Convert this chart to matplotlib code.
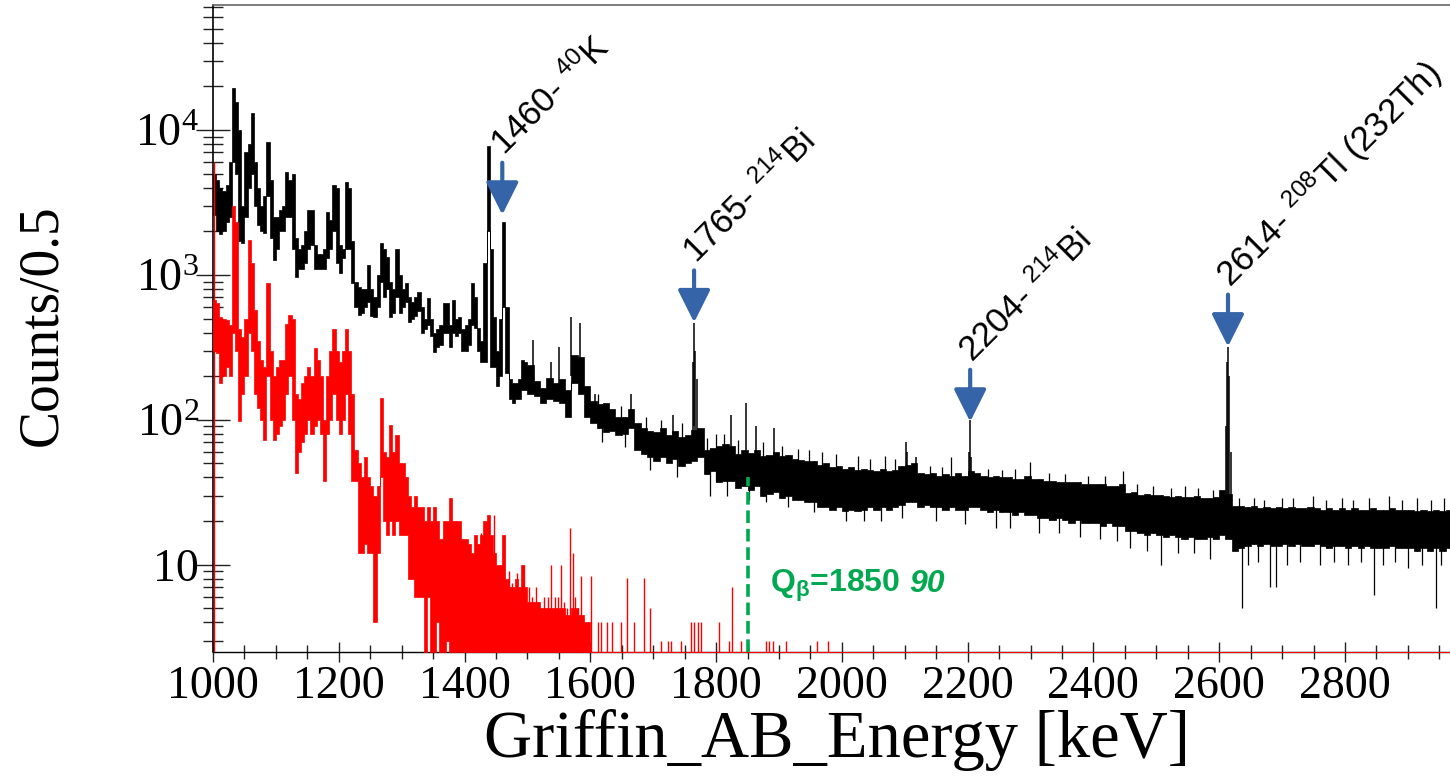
import matplotlib.pyplot as plt
import matplotlib.ticker as mticker
import numpy as np

plt.rcParams['font.family'] = 'Liberation Serif'
plt.rcParams['mathtext.default'] = 'regular'

# --- spectrum, stored as per-bin band (low / high count) ---
# 5 keV bins from 1000 to 1500, 10 keV bins from 1500 to 2970
edges = np.concatenate([np.arange(1000, 1500, 5), np.arange(1500, 2971, 10)])

black_lo_fine = [
    2600, 2000, 1900, 2000, 2300, 2500, 6000, 5000, 1700, 1650,
    2500, 4000, 5000, 3000, 2200, 2000, 1950, 3500, 1800, 1270,
    1500, 2000, 2000, 2500, 2500, 1500, 970, 1100, 1100, 1200,
    1500, 1600, 1100, 1100, 1100, 1100, 1300, 1500, 2000, 1200,
    1030, 1300, 1500, 1500, 880, 600, 530, 550, 600, 650,
    520, 510, 600, 900, 700, 800, 510, 550, 700, 550,
    600, 650, 470, 500, 520, 560, 400, 420, 450, 380,
    295, 320, 330, 400, 400, 320, 400, 380, 400, 300,
    300, 330, 450, 430, 300, 250, 250, 2000, 230, 230,
    170, 200, 600, 210, 140, 130, 140, 140, 160, 160]
black_hi_fine = [
    5000, 4500, 4000, 3800, 4200, 6000, 19500, 15700, 10000, 3000,
    7000, 8000, 13000, 6000, 4000, 3000, 3500, 8300, 4500, 2500,
    2500, 2800, 3000, 5100, 4500, 5000, 1800, 1500, 1600, 2000,
    2800, 2800, 1600, 1400, 1400, 1500, 2700, 2400, 4150, 4000,
    1600, 1500, 4380, 4000, 1700, 900, 830, 800, 800, 1170,
    800, 700, 1000, 1660, 1500, 1330, 900, 800, 1500, 1000,
    800, 880, 700, 650, 700, 760, 600, 500, 690, 500,
    400, 420, 450, 640, 640, 450, 670, 500, 510, 420,
    450, 500, 880, 700, 430, 350, 1200, 7800, 1500, 510,
    300, 500, 2300, 600, 190, 180, 180, 190, 260, 250]

black_lo_coarse = [
    150, 145, 130, 140, 135, 130, 105, 180, 150, 105,                   # 1500
    95, 88, 82, 84, 78, 80, 88, 62, 58, 55,                             # 1600
    52, 55, 50, 54, 48, 50, 52, 55, 42, 44,                             # 1700
    37, 38, 38, 34, 35, 33, 35, 30, 31, 32,                             # 1800
    29, 30, 28, 28, 27, 27, 25, 25, 24, 25,                             # 1900
    23.5, 24, 23.5, 24, 25, 24, 25, 24, 25, 26,                         # 2000
    27, 27, 25, 26, 25, 25, 24, 25, 24, 24,                             # 2100
    25, 25, 24, 23, 24, 23, 23, 22, 23, 22,                             # 2200
    22, 21, 21, 20.5, 21, 20.5, 19.5, 20.5, 19.5, 19.5,                 # 2300
    19.5, 18.5, 19.5, 18.5, 18.5, 17, 17, 16.5, 16, 16.5,               # 2400
    16, 15.5, 16, 15.5, 15, 15.5, 15, 15, 15.5, 15,                     # 2500
    16, 15, 12.5, 13, 13.5, 14, 13.5, 14, 13.5, 13.5,                   # 2600
    14, 13.5, 14, 13.5, 13.5, 14, 13.5, 13, 13.5, 13.5,                 # 2700
    13, 13.5, 13, 13.5, 13, 13, 13, 13.5, 13, 13,                       # 2800
    13, 12.5, 13, 12.5, 13, 12.5, 13]                                   # 2900
black_hi_coarse = [
    240, 185, 165, 195, 180, 190, 160, 280, 270, 170,
    135, 128, 130, 118, 105, 104, 118, 95, 88, 84,
    82, 88, 78, 84, 76, 78, 85, 88, 62, 64,
    66, 68, 66, 58, 62, 59, 62, 56, 57, 60,
    56, 57, 54, 53, 52, 52, 49, 50, 47, 48,
    46, 47, 45, 46, 45, 44, 46, 44, 45, 48,
    49, 50, 43, 42, 43, 41, 42, 41, 43, 41,
    44, 43, 41, 40, 41, 40, 40, 39, 39, 41,
    39, 39, 38, 38, 37, 37, 37, 37, 36, 36,
    36, 36, 35, 35, 36, 31.5, 32, 30.5, 31, 30.5,
    30.5, 30, 29.5, 30, 29.5, 29.5, 30, 29, 29, 29.5,
    33, 31, 25.5, 25.5, 25, 25.5, 24.5, 25, 24.5, 25,
    24.5, 25, 24.5, 24.5, 25, 24.5, 24, 24.5, 24, 24.5,
    24, 24.5, 24, 24, 24.5, 24, 24, 24.5, 24, 24,
    24, 23.5, 24, 23.5, 24, 23.5, 24]

# narrow peaks of the black spectrum (energy, low, high)
peak_e = [1509, 1538, 1550, 1569, 1584, 1608, 1665, 1731, 1763, 1765,
          1767, 1770, 1823, 1847, 1863, 1892, 2102, 2104, 2118, 2202,
          2204, 2206, 2611, 2613, 2614, 2616, 2618]
peak_lo = [180, 170, 170, 200, 190, 110, 100, 70, 80, 90,
           80, 60, 55, 50, 45, 45, 40, 40, 38, 35,
           40, 35, 30, 30, 30, 30, 25]
peak_hi = [356, 250, 320, 510, 465, 150, 150, 108, 250, 465,
           300, 190, 108, 130, 90, 88, 70, 60, 55, 60,
           100, 55, 90, 250, 318, 200, 60]

# single-bin fluctuations sticking out of the band
up_e = [1612, 1648, 1688, 1712, 1745, 1785, 1800, 1812, 1835, 1875,
        1905, 1930, 1948, 1968, 1990, 2025, 2045, 2068, 2085, 2140,
        2160, 2173, 2232, 2255, 2275, 2299, 2330, 2355, 2392, 2418,
        2447, 2470, 2495, 2523, 2545, 2566, 2590, 2632, 2655, 2672,
        2700, 2718, 2749, 2770, 2795, 2812, 2838, 2870, 2890, 2915,
        2936, 2958]
up_top = [150, 125, 105, 100, 95, 75, 80, 80, 72, 70,
          66, 63, 62, 60, 58, 56, 54, 56, 54, 48,
          47, 55, 46, 45, 46, 51, 43, 42, 41, 41,
          44, 36, 35, 34, 35, 34, 33, 29, 29, 28,
          29, 29, 30, 28, 29, 28, 29, 30, 28, 29,
          28, 29]
down_e = [1618, 1655, 1695, 1738, 1790, 1818, 1852, 1880, 1915, 1955,
          2006, 2035, 2062, 2095, 2150, 2196, 2245, 2268, 2313, 2345,
          2378, 2410, 2438, 2458, 2485, 2507, 2535, 2560, 2585, 2636,
          2645, 2662, 2680, 2690, 2708, 2728, 2760, 2783, 2805, 2825,
          2846, 2860, 2880, 2900, 2922, 2944, 2952]
down_bottom = [70, 65, 45, 40, 30, 30, 28, 27, 25, 23,
               20, 20, 20, 21, 20, 19, 18, 18, 16.6, 16.5,
               15.5, 15, 14.5, 13, 12.5, 10, 12, 12, 11, 5,
               10, 10.5, 7, 7, 10, 10.5, 10, 10.5, 10, 10.5,
               6.2, 10, 10.5, 9.5, 10, 5, 10]

red_lo_fine = [
    300, 290, 180, 200, 230, 200, 400, 300, 98, 150,
    200, 400, 300, 150, 120, 100, 73, 200, 100, 73,
    80, 90, 100, 150, 200, 100, 43, 60, 70, 80,
    100, 80, 90, 100, 80, 38, 80, 100, 150, 100,
    80, 100, 150, 80, 38, 38, 12, 12, 14, 12,
    12, 4, 12, 40, 20, 16, 20, 16, 20, 16,
    16, 16, 8, 8, 6, 6, 6, 0, 6, 0,
    0, 4, 0, 0, 3, 0, 0, 0, 0, 0,
    0, 0, 0, 0, 0, 0, 0, 0, 0, 0,
    0, 0, 0, 0, 0, 0, 0, 0, 0, 0]
red_hi_fine = [
    670, 640, 510, 500, 490, 450, 3000, 2300, 420, 370,
    500, 1740, 1200, 570, 350, 260, 230, 880, 300, 200,
    230, 260, 260, 460, 530, 500, 150, 140, 180, 200,
    230, 200, 315, 260, 200, 100, 200, 300, 420, 300,
    250, 300, 420, 300, 150, 62, 50, 40, 55, 40,
    35, 30, 35, 141, 60, 55, 92, 60, 78, 50,
    50, 40, 30, 25, 30, 25, 25, 20, 25, 20,
    25, 20, 15, 20, 20, 29, 20, 20, 20, 15,
    15, 14, 12, 16, 14, 16, 20, 22, 16, 12,
    10, 10, 16, 8, 7, 7, 8, 7, 10, 7]
red_hi_coarse = [5.5, 5.5, 5, 5, 5, 5, 4.5, 5, 4.5, 4]   # 1500-1590, zero above

red_spike_e = [1001, 1426, 1431, 1437, 1447, 1452, 1458, 1463, 1471, 1476,
               1483, 1489, 1495, 1503, 1508, 1513, 1520, 1527, 1532, 1537,
               1544, 1549, 1553, 1558, 1563, 1568, 1572, 1576, 1580, 1585,
               1590, 1596, 1601, 1612, 1617, 1627, 1635, 1649, 1659, 1670,
               1686, 1695, 1712, 1723, 1728, 1744, 1760, 1765, 1771, 1776,
               1805, 1821, 1826, 1839, 1850, 1879, 1884, 1890, 1911, 1960,
               1978]
red_spike_hi = [6000, 16.6, 12, 14, 22, 9.7, 7, 16, 9, 7.5,
                8.8, 6, 10, 7, 6, 7, 5, 6, 6, 10,
                6, 6, 10, 5.5, 5, 18, 12, 6, 5, 8.3,
                4, 4, 8.3, 4, 4, 4, 4, 4, 8.1, 4,
                8.1, 5, 3, 3, 3, 3, 4, 4, 4, 4,
                4, 3, 7, 3, 3, 3, 3, 3, 3, 3,
                3]

# --- annotations ---
peak_energy = [1460, 1765, 2204, 2614]
peak_tip = [2600, 470, 97, 320]
peak_isotope = ['$^{40}$K', '$^{214}$Bi', '$^{214}$Bi', '$^{208}$Tl (232Th)']
q_beta = 1850
q_beta_err = 90
q_line_top = 40

y_floor = 2.5
x_max = 2967


def band(lo, hi):
    lo = np.clip(np.asarray(lo, dtype=float), y_floor, None)
    hi = np.clip(np.asarray(hi, dtype=float), y_floor, None)
    return np.append(lo, lo[-1]), np.append(hi, hi[-1])


def bin_value(values, energies):
    idx = np.searchsorted(edges, energies, side='right') - 1
    return np.asarray(values, dtype=float)[idx]


fig = plt.figure(figsize=(14.5, 7.77), dpi=100)
ax = fig.add_axes([213 / 1450, 1 - 652 / 777, 1 - 213 / 1450, 647 / 777])

n_coarse = len(edges) - 1 - len(red_lo_fine)
red_lo = np.concatenate([red_lo_fine, np.zeros(n_coarse)])
red_hi = np.concatenate([red_hi_fine, red_hi_coarse,
                         np.zeros(n_coarse - len(red_hi_coarse))])
black_lo = np.concatenate([black_lo_fine, black_lo_coarse])
black_hi = np.concatenate([black_hi_fine, black_hi_coarse])

lo, hi = band(black_lo, black_hi)
ax.fill_between(edges, lo, hi, step='post', facecolor='black',
                edgecolor='black', lw=0.5, zorder=2)
ax.vlines(peak_e, peak_lo, peak_hi, colors='black', lw=1.1, zorder=2)
ax.vlines(up_e, bin_value(black_lo, up_e), up_top, colors='black', lw=0.9, zorder=2)
ax.vlines(down_e, down_bottom, bin_value(black_hi, down_e), colors='black', lw=0.9, zorder=2)

lo, hi = band(red_lo, red_hi)
ax.fill_between(edges, lo, hi, step='post', facecolor='red',
                edgecolor='red', lw=0.5, zorder=3)
ax.vlines(red_spike_e, y_floor, red_spike_hi, colors='red', lw=1.0, zorder=3)

# Q-beta marker
green = '#00a94f'
ax.vlines(q_beta, y_floor, q_line_top, colors=green, lw=2.6,
          linestyles=(0, (3.5, 1.6)), zorder=4)
q_txt = ax.text(1886, 6.5, 'Q$_{β}$=%d' % q_beta, color=green, fontsize=23,
                fontweight='bold', family='Liberation Sans', va='baseline')
ax.annotate('%d' % q_beta_err, xy=(1, 6.5), xycoords=(q_txt, 'data'),
            xytext=(6, 0), textcoords='offset points',
            color=green, fontsize=23, fontweight='bold', fontstyle='italic',
            family='Liberation Sans', va='baseline', ha='left')

# peak arrows and labels
blue = '#3565a8'
for e, tip, iso in zip(peak_energy, peak_tip, peak_isotope):
    ax.annotate('', xy=(e, tip), xytext=(0, 52), textcoords='offset pixels',
                arrowprops=dict(arrowstyle='-|>,head_length=1.0,head_width=0.5',
                                color=blue, lw=3.0, mutation_scale=20,
                                shrinkA=0, shrinkB=0), zorder=5)
    ax.annotate('%d- %s' % (e, iso), xy=(e, tip), xytext=(2, 58),
                textcoords='offset pixels', rotation=45, rotation_mode='anchor',
                ha='left', va='baseline', fontsize=25, family='Liberation Sans',
                annotation_clip=False)

# --- axes ---
ax.set_yscale('log')
ax.set_xlim(1000, x_max)
ax.set_ylim(y_floor, 72800)

ax.xaxis.set_major_locator(mticker.MultipleLocator(200))
ax.xaxis.set_minor_locator(mticker.MultipleLocator(50))
ax.yaxis.set_major_locator(mticker.FixedLocator([10, 100, 1000, 10000]))
ax.yaxis.set_major_formatter(mticker.FixedFormatter(['10', '$10^{2}$', '$10^{3}$', '$10^{4}$']))
ax.yaxis.set_minor_locator(mticker.LogLocator(base=10, subs=np.arange(2, 10), numticks=20))
ax.yaxis.set_minor_formatter(mticker.NullFormatter())

ax.tick_params(axis='both', which='both', direction='inout', colors='#222222',
               labelcolor='black', width=1.0, labelsize=33)
ax.tick_params(axis='y', which='major', length=24, pad=-2)
ax.tick_params(axis='y', which='minor', length=14)
ax.tick_params(axis='x', which='major', length=15, pad=2)
ax.tick_params(axis='x', which='minor', length=10)

ax.spines['right'].set_visible(False)
ax.spines['top'].set_color('#666666')
ax.spines['top'].set_linewidth(1.2)
ax.spines['left'].set_linewidth(1.2)
ax.spines['bottom'].set_linewidth(1.0)

fig.text(837 / 1450, 1 - 740 / 777, 'Griffin_AB_Energy [keV]', fontsize=48,
         ha='center', va='center')
fig.text(42 / 1450, 1 - 325 / 777, 'Counts/0.5', fontsize=40, rotation=90,
         ha='center', va='center')

fig.savefig('out.png', dpi=100)
